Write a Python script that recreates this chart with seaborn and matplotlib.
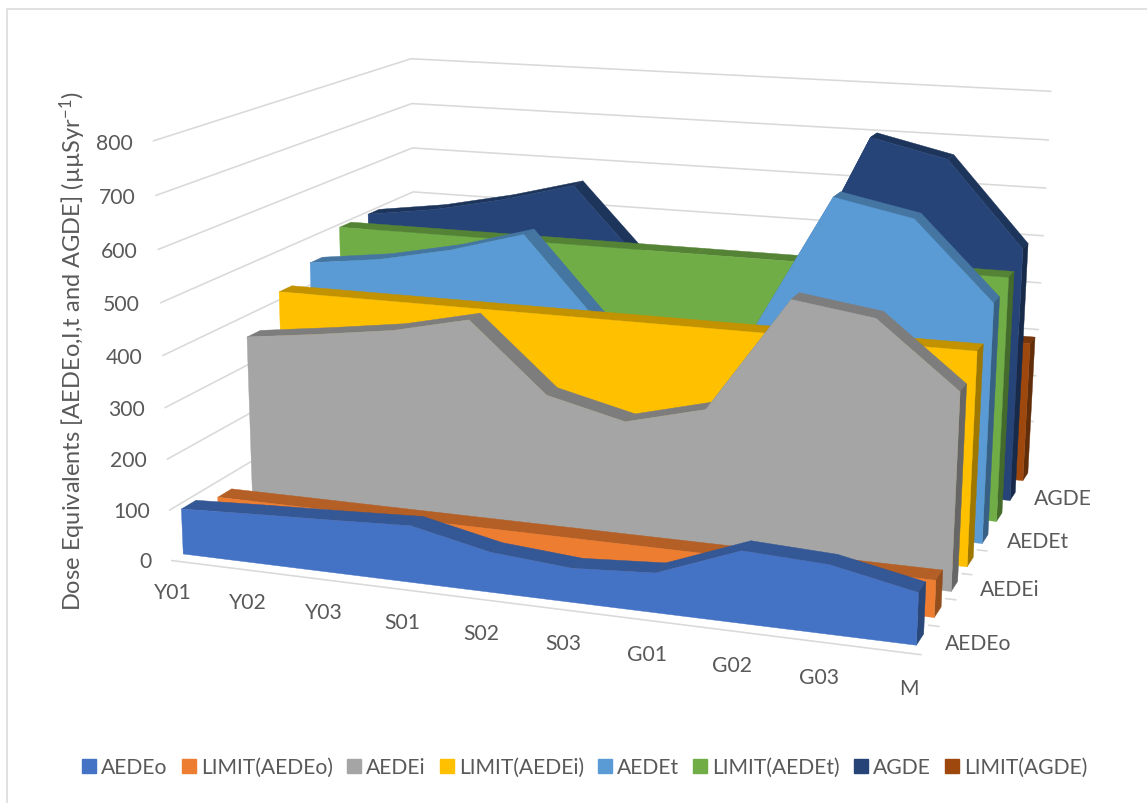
import numpy as np
import matplotlib
matplotlib.use("Agg")
import matplotlib.pyplot as plt
import seaborn as sns
from matplotlib.lines import Line2D
from matplotlib.patches import Patch
from mpl_toolkits.mplot3d import proj3d
from mpl_toolkits.mplot3d.art3d import Poly3DCollection

categories = ["Y01", "Y02", "Y03", "S01", "S02", "S03", "G01", "G02", "G03", "M"]
series_names = ["AEDEo", "LIMIT(AEDEo)", "AEDEi", "LIMIT(AEDEi)",
                "AEDEt", "LIMIT(AEDEt)", "AGDE", "LIMIT(AGDE)"]
aedeo = [90, 97, 103, 110, 77, 65, 75, 135, 128, 96]
limit_aedeo = [70] * 10
aedei = [358, 377, 398, 432, 298, 261, 300, 522, 500, 378]
limit_aedei = [418] * 10
aedet = [448, 467, 498, 541, 375, 326, 375, 658, 627, 476]
limit_aedet = [495] * 10
agde = [496, 517, 549, 589, 430, 360, 400, 727, 692, 522]
limit_agde = [295] * 10
all_series = [aedeo, limit_aedeo, aedei, limit_aedei, aedet, limit_aedet, agde, limit_agde]
colors = ["#4472C4", "#ED7D31", "#A5A5A5", "#FFC000", "#5B9BD5", "#70AD47", "#264478", "#9E480E"]
z_ticks = [0, 100, 200, 300, 400, 500, 600, 700, 800]
depth_labels = {0.5: "AEDEo", 2.5: "AEDEi", 4.5: "AEDEt", 6.5: "AGDE"}
y_title = "Dose Equivalents [AEDEo,I,t and AGDE] (µµSyr$^{-1}$)"

W, H = 1147, 804
TEXT = "#595959"
GRID = "#D9D9D9"

sns.set_theme(style="white", rc={"mathtext.default": "regular"})
plt.rcParams["font.family"] = ["Lato", "DejaVu Sans"]
palette = sns.color_palette(colors)

fig = plt.figure(figsize=(W / 100, H / 100), dpi=100, facecolor="white")
ax = fig.add_axes([0, 0, 1, 1], projection="3d", computed_zorder=False)
ax.set_axis_off()
ax.set_xlim(0, 9)
ax.set_ylim(0, 8)
ax.set_zlim(0, 800)
ax.set_xticks([])
ax.set_yticks([])
ax.set_zticks([])

# camera calibration: axis frame (category, depth, value) -> image pixel
frame_pins = [
    (0, 0, 0, 173, 559), (0, 0, 100, 170, 510), (0, 0, 200, 167, 459), (0, 0, 300, 165, 408),
    (0, 0, 400, 162, 356), (0, 0, 500, 160, 304), (0, 0, 600, 157, 251), (0, 0, 700, 155, 197),
    (0, 0, 800, 152, 143),
    (0, 8, 0, 413, 412), (0, 8, 500, 413, 192), (0, 8, 600, 413, 148), (0, 8, 700, 413, 104),
    (0, 8, 800, 413, 60),
    (9, 8, 0, 1031, 466), (9, 8, 100, 1033, 421), (9, 8, 200, 1036, 376), (9, 8, 300, 1039, 330),
    (9, 8, 400, 1041, 283), (9, 8, 500, 1044, 237), (9, 8, 600, 1046, 189), (9, 8, 700, 1048, 142),
    (9, 8, 800, 1050, 93),
    (1, 0, 0, 248, 570), (2, 0, 0, 324, 580), (3, 0, 0, 402, 590), (4, 0, 0, 482, 600),
    (5, 0, 0, 563, 612), (6, 0, 0, 647, 623), (7, 0, 0, 733, 633), (8, 0, 0, 820, 645),
    (9, 0, 0, 910, 655),
]
rows = []
for x, d, z, px, py in frame_pins:
    X = np.array([x / 9, d / 8, z / 800, 1.0])
    u, v = px / 1000, py / 1000
    rows.append(np.r_[X, 0 * X, -u * X])
    rows.append(np.r_[0 * X, X, -v * X])
_, _, vt = np.linalg.svd(np.array(rows))
P = vt[-1].reshape(3, 4)
P = np.diag([1000, 1000, 1.0]) @ P @ np.diag([1 / 9, 1 / 8, 1 / 800, 1.0])
centre = np.linalg.svd(P)[2][-1]

ax.apply_aspect()
to_display = np.array([[1, 0, 0], [0, -1, H], [0, 0, 1.0]])
Q = np.linalg.inv(ax.transData.get_matrix()) @ to_display @ P
M = np.vstack([Q[0], Q[1], centre, Q[2]])
ax.get_proj = lambda: M


def add_poly(verts, color, zorder):
    poly = Poly3DCollection([verts], facecolors=[color], edgecolors=[color],
                            linewidths=0.3, zorder=zorder)
    ax.add_collection3d(poly, autolim=False)
    poly.set_clip_on(False)


def add_label(x, d, z, text, ha):
    u, v, _ = proj3d.proj_transform(x, d, z, M)
    ax.text2D(u, v, text, transform=ax.transData, ha=ha, va="center", color=TEXT,
              fontsize=FS, zorder=50, clip_on=False)


def shade(color, k):
    return tuple(c * k for c in color[:3])


grid_kw = dict(color=GRID, lw=1.15, zorder=1, solid_capstyle="round", clip_on=False)
FS = 15.2
n = len(categories) - 1
for z in z_ticks:
    ax.plot([0, 0, n], [0, 8, 8], [z, z, z], **grid_kw)
    add_label(-0.27, 0, z - 6, str(z), "right")
ax.plot([0, n, n], [0, 0, 8], [0, 0, 0], **grid_kw)
for i, name in enumerate(categories):
    ax.plot([i, i], [0, 0], [0, -16], **grid_kw)
    add_label(i, 0, -64, name, "center")
for d in range(9):
    ax.plot([n, n + 0.12], [d, d], [0, 0], **grid_kw)
for d, name in depth_labels.items():
    add_label(n + 0.65, d, 6, name, "center")

# series from the back wall to the front
for s in range(len(all_series) - 1, -1, -1):
    vals = all_series[s]
    col = palette[s]
    d0, d1 = s + 0.3, s + 0.7
    zo = 10 + 3 * (len(all_series) - s)
    for i in range(n):
        add_poly([(i, d0, vals[i]), (i + 1, d0, vals[i + 1]),
                  (i + 1, d1, vals[i + 1]), (i, d1, vals[i])], shade(col, 0.76), zo)
    add_poly([(n, d0, 0), (n, d1, 0), (n, d1, vals[n]), (n, d0, vals[n])], shade(col, 0.62), zo + 1)
    front = [(i, d0, vals[i]) for i in range(n + 1)] + [(n, d0, 0), (0, d0, 0)]
    add_poly(front, col, zo + 2)

fig.text(73 / W, 1 - 351 / H, y_title, rotation=90, ha="center", va="center",
         color=TEXT, fontsize=17)

handles = [Patch(facecolor=c, edgecolor=c) for c in palette]
fig.legend(handles, series_names, ncol=8, loc="center", bbox_to_anchor=(585 / W, 1 - 768 / H),
           frameon=False, fontsize=FS, labelcolor=TEXT, handlelength=0.65, handleheight=0.65,
           handletextpad=0.25, columnspacing=0.67, borderpad=0)

fig.add_artist(Line2D([6.5 / W, 6.5 / W, 1], [0, 1 - 9.5 / H, 1 - 9.5 / H],
                      transform=fig.transFigure, color=GRID, lw=1.1))
fig.savefig("out.png", dpi=100)
